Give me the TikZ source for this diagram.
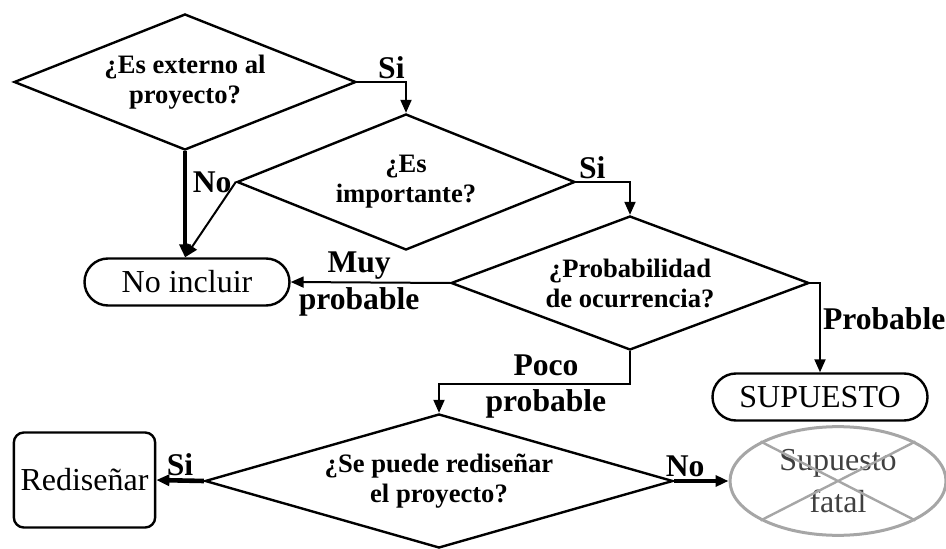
\documentclass[tikz,border=0pt]{standalone}
\usepackage{fontspec}
\setmainfont{Liberation Serif}
\usetikzlibrary{shapes.geometric,shapes.misc,arrows.meta,positioning}
\tikzset{decision/.style={diamond,draw,line width=1.2pt,inner sep=0pt,align=center,font=\fontsize{13.3}{15}\selectfont\bfseries},
         terminal/.style={rounded rectangle,draw,line width=1.2pt,minimum height=23.5pt,inner sep=2pt,font=\fontsize{16}{18}\selectfont},
         action/.style={rectangle,rounded corners=5pt,draw,line width=1.2pt,font=\fontsize{16}{18}\selectfont},
         crossed/.style={ellipse,draw=gray!70,line width=1.5pt,text=black!75,align=center,font=\fontsize{16}{21}\selectfont},
         edge label/.style={rectangle,draw=none,fill=none,inner sep=1pt,font=\fontsize{15.8}{17}\selectfont\bfseries},
         flow/.style={->,line width=1pt},
         heavy flow/.style={->,line width=2.3pt}
}
\begin{document}
\begin{tikzpicture}[x=0.5pt,y=-0.5pt,>={Triangle[length=6.5pt,width=5.5pt]}]
\useasboundingbox (0,0) rectangle (946,549);
% \draw[help lines] (0,0) grid[step=50] (946,549);
\node[decision,aspect=2.5,minimum width=171pt,minimum height=68pt] (ext) at (185,82) {¿Es externo al\\proyecto?};
\node[decision,aspect=2.5,minimum width=169pt,minimum height=68pt] (imp) at (406,182) {¿Es\\importante?};
\node[decision,aspect=2.7,minimum width=179pt,minimum height=67pt] (prob) at (630,283) {¿Probabilidad\\de ocurrencia?};
\node[decision,aspect=3.5,minimum width=234pt,minimum height=67pt] (redis) at (439,481) {¿Se puede rediseñar\\el proyecto?};

\node[terminal,minimum width=106.5pt] (noinc) at (187,282) {No incluir};
\node[terminal,minimum width=111.5pt] (sup) at (820,397) {SUPUESTO};
\node[action,minimum width=69.5pt,minimum height=47.5pt] (redisenar) at (84.5,480) {Rediseñar};
\node[crossed,minimum width=108pt,minimum height=44pt] (fatal) at (838,481) {Supuesto\\fatal};
\draw[gray!70,line width=1.2pt] (fatal.north west) -- (fatal.south east)
                                (fatal.north east) -- (fatal.south west);

\draw[flow] (ext.east) -| node[edge label,pos=0.35,above] (si1) {Si} (imp.north);
\draw[heavy flow] (ext.south) -- (ext.south |- noinc.north);
\draw[flow] (imp.west) -- (ext.south |- noinc.north);
\node[edge label,left=1pt of imp.west] (no1) {No};
\draw[flow] (imp.east) -| node[edge label,pos=0.15,above] (si2) {Si} (prob.north);
\draw[flow] (prob.west) -- node[edge label,pos=0.57,above] (muy) {Muy}
                           node[edge label,pos=0.57,below=1pt] (muyprob) {probable} (noinc.east);
\draw[flow] (prob.east) -| node[edge label,pos=0.7,right] (pr) {Probable} (sup.north);
\draw[flow] (prob.south) -- ++(0,33) -| node[edge label,pos=0.22,above=2.5pt] (poco) {Poco}
                                        node[edge label,pos=0.22,below=1pt] (pocoprob) {probable} (redis.north);
\draw[heavy flow] (redis.west) -- node[edge label,midway,above] (si3) {Si} (redisenar.east);
\draw[heavy flow] (redis.east) -- node[edge label,pos=0.2,above] (no2) {No} (fatal.west);
\end{tikzpicture}
\end{document}
